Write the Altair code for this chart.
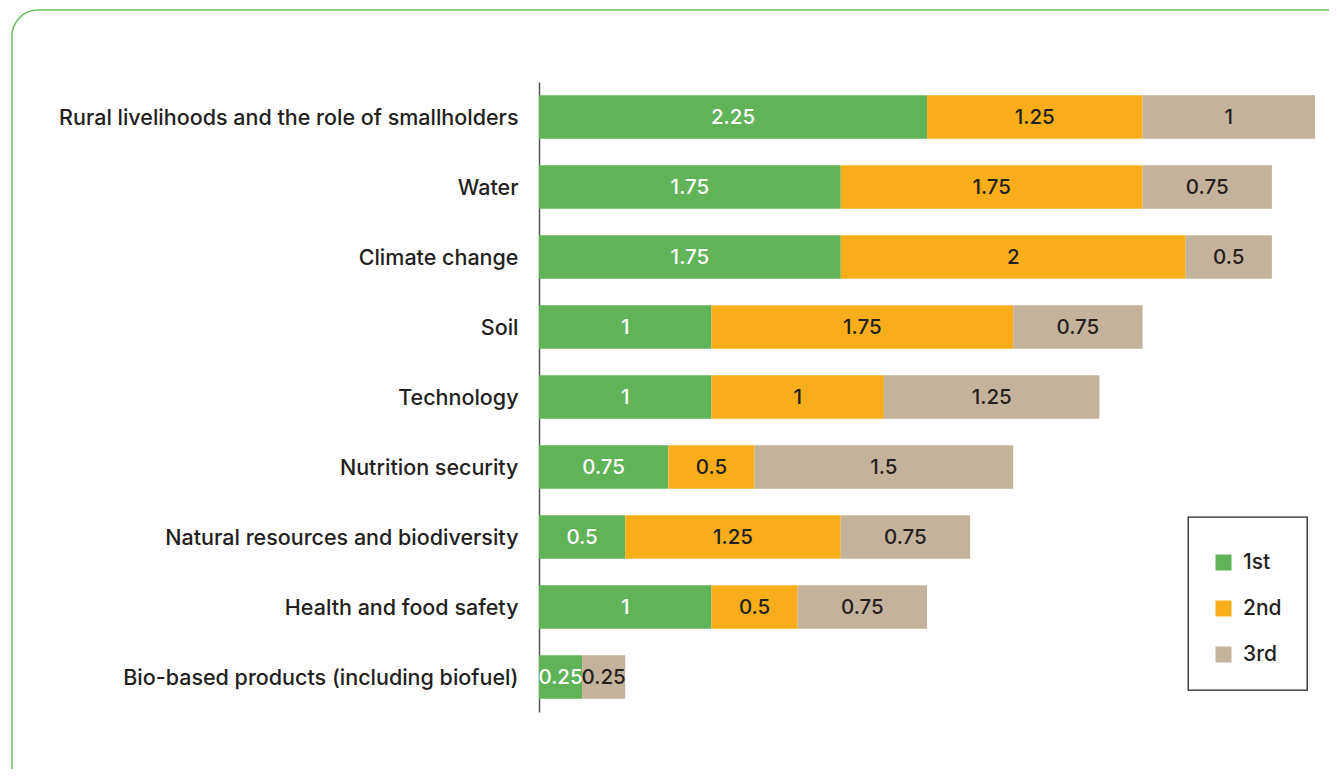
import altair as alt
import pandas as pd

categories = [
    "Rural livelihoods and the role of smallholders",
    "Water",
    "Climate change",
    "Soil",
    "Technology",
    "Nutrition security",
    "Natural resources and biodiversity",
    "Health and food safety",
    "Bio-based products (including biofuel)",
]
first = [2.25, 1.75, 1.75, 1, 1, 0.75, 0.5, 1, 0.25]
second = [1.25, 1.75, 2, 1.75, 1, 0.5, 1.25, 0.5, 0]
third = [1, 0.75, 0.5, 0.75, 1.25, 1.5, 0.75, 0.75, 0.25]
ranks = ["1st", "2nd", "3rd"]
colors = ["#60B457", "#FAAD1B", "#C4B39C"]
label_colors = ["#FFFFFF", "#231F20", "#231F20"]

rows = []
for i, c in enumerate(categories):
    for r, vals in enumerate([first, second, third]):
        rows.append({"category": c, "rank": ranks[r], "order": r, "value": vals[i],
                     "label": f"{vals[i]:g}"})
df = pd.DataFrame(rows)

FONT = "Inter"

base = alt.Chart(df).transform_stack(
    stack="value", as_=["x0", "x1"], groupby=["category"], sort=[alt.SortField("order")]
).transform_calculate(mid="(datum.x0 + datum.x1) / 2")

y_enc = alt.Y("category:N", sort=categories, title=None,
              scale=alt.Scale(paddingInner=0.38, paddingOuter=0.19),
              axis=alt.Axis(labelFont=FONT, labelFontSize=21.5, labelFontWeight=500,
                            labelColor="#231F20", labelPadding=21, labelLimit=700,
                            labelOffset=1.5,
                            ticks=False, domainColor="#555555", domainWidth=1.5, grid=False))

bars = base.mark_bar().encode(
    y=y_enc,
    x=alt.X("x0:Q", scale=alt.Scale(domain=[0, 4.5], nice=False), axis=None),
    x2="x1:Q",
    color=alt.Color("rank:N", scale=alt.Scale(domain=ranks, range=colors),
                    legend=alt.Legend(title=" ", titleFontSize=8, titlePadding=2,
                                      orient="none", legendX=649, legendY=435,
                                      symbolType="square", symbolSize=256,
                                      symbolStrokeWidth=0,
                                      labelFont=FONT, labelFontSize=21, labelFontWeight=500,
                                      labelColor="#231F20",
                                      rowPadding=24, padding=25, labelOffset=9)),
)

text = base.transform_filter("datum.value > 0").mark_text(
    font=FONT, fontSize=20.5, fontWeight=500, baseline="middle", align="center", dy=1
).encode(
    y=alt.Y("category:N", sort=categories),
    x=alt.X("mid:Q"),
    text="label:N",
    color=alt.Color("rank:N", scale=alt.Scale(domain=ranks, range=label_colors), legend=None),
)

border = alt.Chart(pd.DataFrame({"a": [0]})).mark_rect(
    fill=None, stroke="#6CC062", strokeWidth=1.5, cornerRadius=26
).encode(
    x=alt.value(-527), x2=alt.value(830), y=alt.value(-72), y2=alt.value(730)
)

chart = alt.layer(border, bars, text).resolve_scale(color="independent").properties(
    width=776, height=630,
    autosize=alt.AutoSizeParams(type="none"),
    padding={"left": 531, "top": 74, "right": 14, "bottom": 57},
    background="white",
).configure_view(stroke=None).configure_legend(strokeColor="#231F20", strokeWidth=1.3)

chart.save("out.html", embed_options={"renderer": "svg", "actions": False})
